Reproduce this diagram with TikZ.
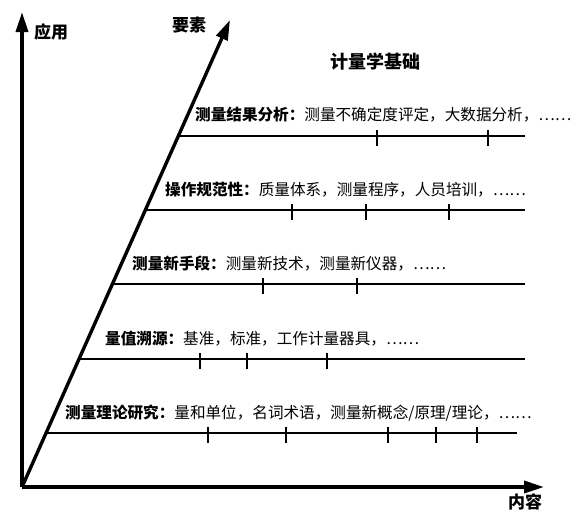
\documentclass[tikz,border=0pt]{standalone}
\usepackage{fontspec}
\setmainfont{Noto Sans CJK SC}
\usetikzlibrary{arrows.meta}
\tikzset{
  axis/.style={line width=3.4pt,-{Triangle[length=20pt,width=12pt]}},
  level/.style={line width=1.6pt},
  tick/.style={line width=1.3pt},
  rowtext/.style={anchor=west,inner sep=0pt,font=\fontsize{15.6}{18}\selectfont},
  axlabel/.style={inner sep=0pt,font=\fontsize{17}{20}\selectfont\bfseries},
}
\begin{document}
\begin{tikzpicture}[x=1pt,y=-1pt]
\useasboundingbox (0,0) rectangle (577,512);
% axes
\coordinate (O) at (22,487);
\coordinate (Ytip) at (22,12);
\coordinate (Xtip) at (544,487);
\coordinate (Dtip) at (230,20);
\draw[axis] (O) -- (Ytip);
\draw[axis] (O) -- (Xtip);
\draw[axis] (O) -- (Dtip);
\node[axlabel] (lab-y) at (51,32) {应用};
\node[axlabel] (lab-d) at (189,25) {要素};
\node[axlabel] (lab-x) at (525,502) {内容};
\node[inner sep=0pt,font=\fontsize{18}{21}\selectfont\bfseries] (title) at (375,62) {计量学基础};
% levels: start on diagonal
\foreach \name/\y/\xe in {L1/136/525, L2/210/525, L3/284/525, L4/359/525, L5/433/517}{
  \coordinate (\name s) at ({22+(487-\y)/467*208},\y);
  \coordinate (\name e) at (\xe,\y);
  \draw[level] (\name s) -- (\name e);
}
% ticks
\foreach \y/\x in {136/377, 136/488, 210/292, 210/366, 210/449, 284/263, 284/357, 359/200, 359/247, 359/327, 433/208, 433/286, 433/388, 433/436, 433/477}{
  \draw[tick] (\x,\y-6) -- (\x,\y+10);
}
% texts
\node[rowtext] (T1) at (195,115) {\textbf{测量结果分析：}测量不确定度评定，大数据分析，……};
\node[rowtext] (T2) at (165,190) {\textbf{操作规范性：}质量体系，测量程序，人员培训，……};
\node[rowtext] (T3) at (132,264) {\textbf{测量新手段：}测量新技术，测量新仪器，……};
\node[rowtext] (T4) at (105,339) {\textbf{量值溯源：}基准，标准，工作计量器具，……};
\node[rowtext] (T5) at (65,413) {\textbf{测量理论研究：}量和单位，名词术语，测量新概念/原理/理论，……};
\end{tikzpicture}
\end{document}
